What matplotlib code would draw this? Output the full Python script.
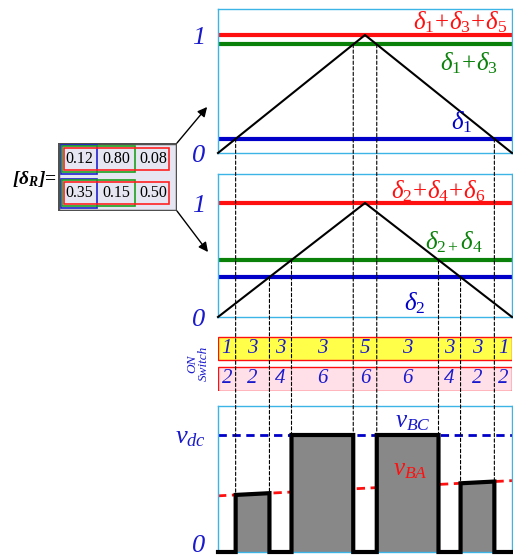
import numpy as np
import matplotlib
matplotlib.use('Agg')
import matplotlib.pyplot as plt
import matplotlib.transforms as mtransforms
from matplotlib.patches import Rectangle, ConnectionPatch

plt.rcParams['font.family'] = ['Liberation Serif', 'DejaVu Serif']
plt.rcParams['mathtext.fontset'] = 'custom'
plt.rcParams['mathtext.rm'] = 'Liberation Serif'
plt.rcParams['mathtext.it'] = 'Liberation Serif:italic'
plt.rcParams['mathtext.bf'] = 'Liberation Serif:bold:italic'

# duty ratio matrix [delta_R], odd switches on top row, even on bottom
delta_odd = [0.12, 0.80, 0.08]
delta_even = [0.35, 0.15, 0.50]

odd_labels = [r'$\delta_1$', r'$\delta_1\!+\!\delta_3$', r'$\delta_1\!+\!\delta_3\!+\!\delta_5$']
even_labels = [r'$\delta_2$', r'$\delta_{2+}\delta_4$', r'$\delta_2\!+\!\delta_4\!+\!\delta_6$']

# switch that is ON in each sub-interval
on_odd = [1, 3, 3, 3, 5, 3, 3, 3, 1]
on_even = [2, 2, 4, 6, 6, 6, 4, 2, 2]

# output line voltage (per unit of v_dc)
v_ba = [0.48, 0.61]      # v_BA at start / end of the period
v_bc = 1.0
seg_out = ['0', 'BA', '0', 'BC', '0', 'BC', '0', 'BA', '0']

RED = '#ff1010'
GREEN = '#0a820a'
BLUE = '#0000c8'
TXT_BLUE = '#1a1acc'
FRAME = '#3cb4e6'

lv_odd = np.cumsum(delta_odd)
lv_even = np.cumsum(delta_even)


def cross(lv):
    # triangular carrier 0 -> 1 -> 0 over one period
    return [lv / 2, 1 - lv / 2]


edges = sorted(set([round(t, 4) for lv in list(lv_odd[:2]) + list(lv_even[:2]) for t in cross(lv)]))
bounds = [0.0] + edges + [1.0]

W, H = 513, 557
fig = plt.figure(figsize=(W / 100, H / 100), dpi=100)


def px_axes(x0, y0, x1, y1):
    return fig.add_axes([x0 / W, 1 - y1 / H, (x1 - x0) / W, (y1 - y0) / H])


ax1 = px_axes(218, 9, 512, 153)
ax2 = px_axes(218, 174, 512, 317)
axs = px_axes(218, 336, 512, 391)
ax4 = px_axes(218, 406, 512, 552)
axm = px_axes(58, 143, 177, 211)

ax1.set_ylim(0, 144 / 118)
ax2.set_ylim(0, 143 / 114)
ax4.set_ylim(0, 146 / 117)


def style_panel(ax, labels):
    ax.set_xlim(0, 1)
    ax.set_xticks([])
    ax.set_yticks([0, 1], labels)
    ax.tick_params(length=0, pad=9, labelcolor=TXT_BLUE, labelsize=19)
    for t in ax.get_yticklabels():
        t.set_fontstyle('italic')
    for s in ax.spines.values():
        s.set_color(FRAME)
        s.set_linewidth(1)


# carrier comparison panels
for ax, levels in [(ax1, lv_odd), (ax2, lv_even)]:
    ax.plot([0, 0.5, 1], [0, 1, 0], color='black', lw=1.5, clip_on=False, zorder=3)
    for lv, col in zip(levels, [BLUE, GREEN, RED]):
        ax.axhline(lv, color=col, lw=3, zorder=2)
    style_panel(ax, ['0', '1'])

ax1.text(0.983, 1.11, odd_labels[2], color=RED, fontsize=18, ha='right', va='center')
ax1.text(0.952, 0.76, odd_labels[1], color=GREEN, fontsize=18, ha='right', va='center')
ax1.text(0.83, 0.26, odd_labels[0], color=BLUE, fontsize=18, ha='center', va='center')

ax2.text(0.748, 1.10, even_labels[2], color=RED, fontsize=18, ha='center', va='center')
ax2.text(0.90, 0.66, even_labels[1], color=GREEN, fontsize=18, ha='right', va='center')
ax2.text(0.67, 0.12, even_labels[0], color=BLUE, fontsize=18, ha='center', va='center')

# ON switch rows
axs.set_xlim(0, 1)
axs.set_ylim(0, 1)
axs.axis('off')
axs.barh([0.776], [1], left=0, height=0.423, color='#ffff4a', edgecolor=RED, lw=1)
axs.barh([0.223], [1], left=0, height=0.436, color='#ffe0e8', edgecolor=RED, lw=1)
for i in range(len(on_odd)):
    mid = (bounds[i] + bounds[i + 1]) / 2
    axs.text(mid, 0.776, str(on_odd[i]), color=TXT_BLUE, fontsize=15, style='italic',
             ha='center', va='center')
    axs.text(mid, 0.223, str(on_even[i]), color=TXT_BLUE, fontsize=15, style='italic',
             ha='center', va='center')
axs.text(-0.068, 0.5, 'ON\nSwitch', rotation=90, color=TXT_BLUE, fontsize=9.5, style='italic',
         ha='center', va='center', linespacing=0.95, transform=axs.transAxes)


# output voltage panel
def v_out(kind, t):
    if kind == 'BA':
        return v_ba[0] + (v_ba[1] - v_ba[0]) * t
    if kind == 'BC':
        return v_bc
    return 0.0


xs, ys = [], []
for i, kind in enumerate(seg_out):
    a, b = bounds[i], bounds[i + 1]
    xs += [a, b]
    ys += [v_out(kind, a), v_out(kind, b)]

ax4.plot([0, 1], v_ba, color=RED, lw=2, ls=(0, (3, 2)), zorder=1)
ax4.axhline(v_bc, color=BLUE, lw=2, ls=(0, (3, 2)), zorder=1)
ax4.fill_between(xs, ys, color='#888888', zorder=2, lw=0)
ax4.plot(xs, ys, color='black', lw=3, clip_on=False, zorder=3, solid_joinstyle='miter')
style_panel(ax4, ['0', r'$v_{dc}$'])
# lift the bottom zero so it stays inside the figure
zero_lbl = ax4.get_yticklabels()[0]
zero_lbl.set_transform(zero_lbl.get_transform() +
                       mtransforms.ScaledTranslation(0, 6 / 72, fig.dpi_scale_trans))
ax4.text(0.663, 1.11, r'$v_{BC}$', color=TXT_BLUE, fontsize=18, ha='center', va='center')
ax4.text(0.653, 0.70, r'$v_{BA}$', color=RED, fontsize=18, ha='center', va='center')

# dashed guides from each crossing down to the output panel
for levels, ax in [(lv_odd, ax1), (lv_even, ax2)]:
    for lv in levels[:2]:
        for t in cross(lv):
            con = ConnectionPatch(xyA=(t, lv), coordsA=ax.transData,
                                  xyB=(t, 0), coordsB=ax4.transData,
                                  color='black', lw=0.8, ls=(0, (3, 2)))
            fig.add_artist(con)

# duty ratio matrix
axm.set_xlim(0, 119)
axm.set_ylim(68, 0)
axm.axis('off')
axm.add_patch(Rectangle((0, 0), 119, 68, fc='#e6e6f2', ec='#505050', lw=2.5))
for r, row in enumerate([delta_odd, delta_even]):
    y0 = r * 34
    axm.add_patch(Rectangle((3, y0 + 2), 36, 29, fill=False, ec='#2020d0', lw=1.2))
    axm.add_patch(Rectangle((4, y0 + 3), 73, 26, fill=False, ec='#20a020', lw=1.2))
    axm.add_patch(Rectangle((6, y0 + 5), 105, 22, fill=False, ec='#ff2020', lw=1.2))
    for c, val in enumerate(row):
        axm.text(21 + 37 * c, y0 + 16, f'{val:.2f}', fontsize=11.5, ha='center', va='center')
axm.text(-1, 36, r'$\mathbf{[\delta_R]}$=', fontsize=14, fontweight='bold', ha='right', va='center')

# arrows from the matrix rows to the carrier panels
for xyA, xyB, ax in [((1, 1), (-0.037, 0.39), ax1), ((1, 0), (-0.034, 0.57), ax2)]:
    arr = ConnectionPatch(xyA=xyA, coordsA=axm.transAxes, xyB=xyB, coordsB=ax.transData,
                          arrowstyle='-|>', mutation_scale=14, color='black', lw=1)
    fig.add_artist(arr)

fig.savefig('out.png', dpi=100)
